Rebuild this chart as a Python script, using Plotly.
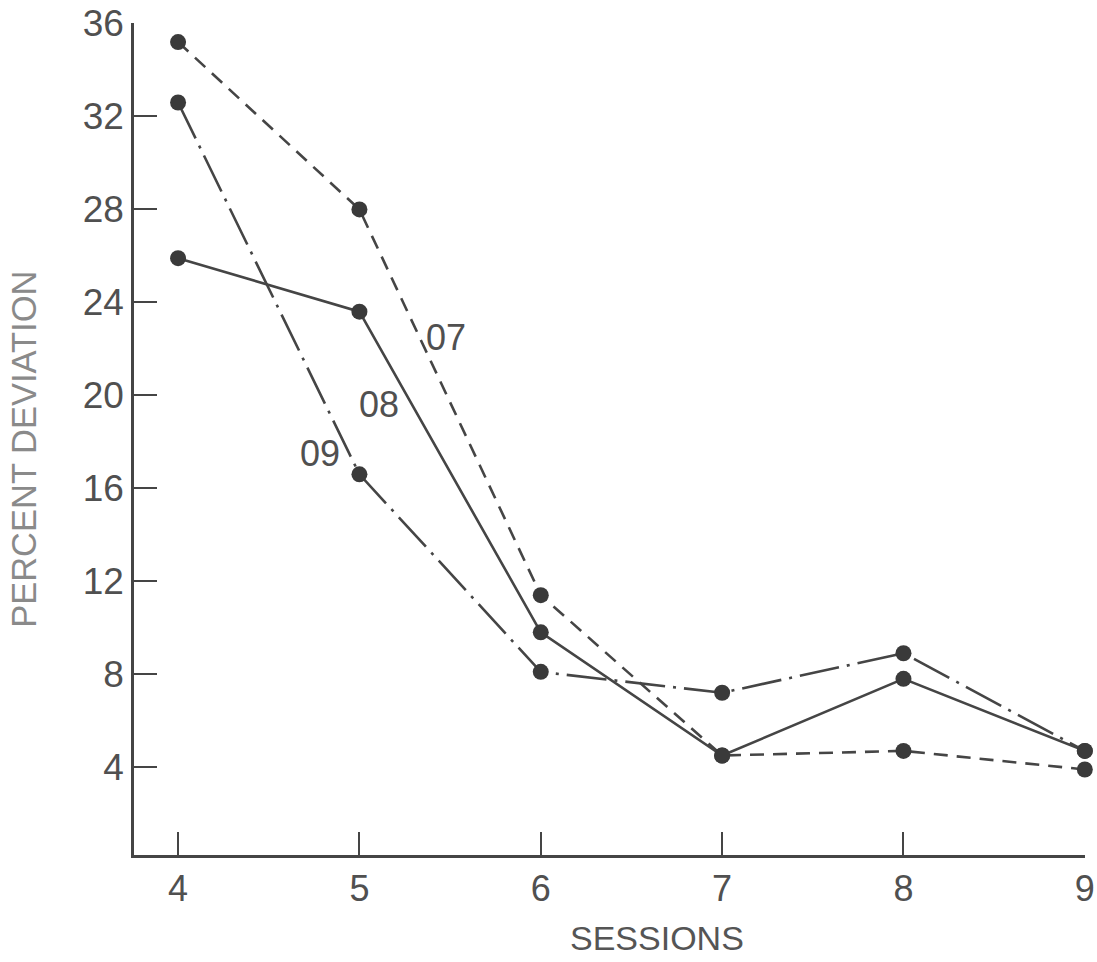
import plotly.graph_objects as go

sessions = [4, 5, 6, 7, 8, 9]
s07 = [35.2, 28.0, 11.4, 4.5, 4.7, 3.9]
s08 = [25.9, 23.6, 9.8, 4.5, 7.8, 4.7]
s09 = [32.6, 16.6, 8.1, 7.2, 8.9, 4.7]

series_names = ["07", "08", "09"]
series_vals = [s07, s08, s09]
series_dash = ["14px,9px", "solid", "40px,8px,3px,8px"]
label_x = [5.48, 5.11, 4.78]
label_y = [22.5, 19.6, 17.5]

yticks = [4, 8, 12, 16, 20, 24, 28, 32, 36]
xticks = [4, 5, 6, 7, 8, 9]

ink = "#454545"
font_family = "Liberation Sans, Arial, sans-serif"

fig = go.Figure()
for name, vals, dash in zip(series_names, series_vals, series_dash):
    fig.add_trace(go.Scatter(
        x=sessions, y=vals, name=name, mode="lines+markers",
        line=dict(color=ink, width=2.6, dash=dash),
        marker=dict(color="#3a3a3a", size=16),
        cliponaxis=False, showlegend=False,
    ))

for name, lx, ly in zip(series_names, label_x, label_y):
    fig.add_annotation(x=lx, y=ly, text=name, showarrow=False,
                       font=dict(size=36, color="#505050", family=font_family))

# axis titles
fig.add_annotation(xref="paper", yref="paper", x=0.55, y=0, yanchor="middle",
                   yshift=-83, text="SESSIONS", showarrow=False,
                   font=dict(size=34, color="#555", family=font_family))
fig.add_annotation(xref="paper", yref="paper", x=0, y=0.487, xanchor="center",
                   xshift=-110, textangle=-90, text="PERCENT DEVIATION", showarrow=False,
                   font=dict(size=34.5, color="#8a8a8a", family=font_family))

fig.update_layout(
    width=1097, height=962,
    margin=dict(l=134, r=12, t=23, b=107),
    paper_bgcolor="white", plot_bgcolor="white",
    font=dict(family=font_family, color="#505050", size=37),
    xaxis=dict(
        range=[3.757, 9.001], tickvals=xticks, ticktext=[str(v) for v in xticks],
        ticks="inside", ticklen=23, tickwidth=2, tickcolor=ink,
        showline=True, linecolor=ink, linewidth=2.5,
        showgrid=False, zeroline=False, automargin=False,
        tickfont=dict(size=36, color="#505050"),
    ),
    yaxis=dict(
        range=[0.22, 36.02], tickvals=yticks, ticktext=[str(v) for v in yticks],
        ticks="inside", ticklen=23, tickwidth=2, tickcolor=ink,
        showline=True, linecolor=ink, linewidth=2.5,
        showgrid=False, zeroline=False, automargin=False,
        tickfont=dict(size=37, color="#505050"),
    ),
)

fig.write_html("out.html",
               config={"displayModeBar": False},
               post_script="document.body.style.margin='0';document.body.style.overflow='hidden';")
